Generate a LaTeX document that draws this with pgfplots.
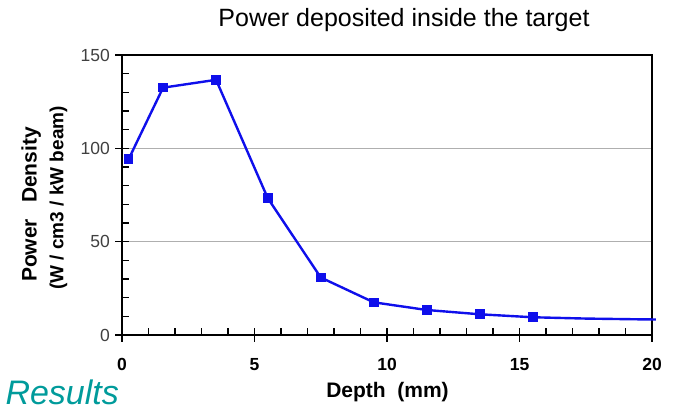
\documentclass[border=0pt]{standalone}
\usepackage{fontspec}
\setmainfont{Liberation Sans}
\usepackage{pgfplots}
\pgfplotsset{compat=1.18}
\definecolor{lineblue}{RGB}{15,15,235}
\definecolor{resteal}{RGB}{0,155,155}
\definecolor{gridgray}{RGB}{175,175,175}

\begin{document}
\begin{tikzpicture}[x=1pt,y=1pt]
\path[use as bounding box] (0,0) rectangle (675,412);
\begin{axis}[
    at={(122pt,77pt)}, anchor=south west,
    scale only axis, width=530pt, height=280pt,
    xmin=0, xmax=20, ymin=0, ymax=150,
    xtick={0,5,10,15,20}, ytick={0,50,100,150},
    minor x tick num=4, minor y tick num=4,
    xtick pos=bottom, ytick pos=left,
    tick align=center,
    major tick length=14pt, minor tick length=7pt,
    major tick style={black, line width=1.6pt},
    minor tick style={black, line width=1.3pt},
    minor x tick style={yshift=3.5pt},
    minor y tick style={xshift=3.5pt},
    axis line style={black, line width=2.2pt},
    ymajorgrids, major grid style={gridgray, line width=1.5pt},
    /pgf/number format/assume math mode=true,
    yticklabel style={font=\fontsize{17.5}{17.5}\selectfont, text=black!75, anchor=east, inner sep=0pt, xshift=-5pt},
    xticklabel style={font=\fontsize{17.5}{17.5}\selectfont\bfseries, anchor=north, inner sep=0pt, yshift=-16pt},
    clip=false,
  ]
  \addplot[lineblue, line width=2.4pt, mark=square*, mark size=3.6pt, mark options={solid}]
    coordinates {(0.25,94.2) (1.55,132.5) (3.55,136.7) (5.5,73.3) (7.5,30.8)
                 (9.5,17.5) (11.5,13.4) (13.5,11.1) (15.5,9.5)};
  \addplot[lineblue, line width=2.4pt, no marks]
    coordinates {(15.5,9.5) (17.5,8.8) (19.5,8.4) (20.15,8.3)};
\end{axis}
% titles and labels
\node[anchor=base, font=\fontsize{25}{25}\selectfont] at (404,385) {Power deposited inside the target};
\node[anchor=base, font=\fontsize{21}{21}\selectfont\bfseries] at (387.5,14.3) {Depth\ \ (mm)};
\node[anchor=base, rotate=90, font=\fontsize{21}{21}\selectfont\bfseries] at (36.7,207.5) {Power\hspace{16pt}Density};
\node[anchor=base, rotate=90, font=\fontsize{19}{19}\selectfont\bfseries] at (63.3,214) {(W / cm3 / kW beam)};
\node[anchor=base west, font=\fontsize{34}{34}\selectfont\itshape, text=resteal] at (2,7) {Results};
\end{tikzpicture}
\end{document}
